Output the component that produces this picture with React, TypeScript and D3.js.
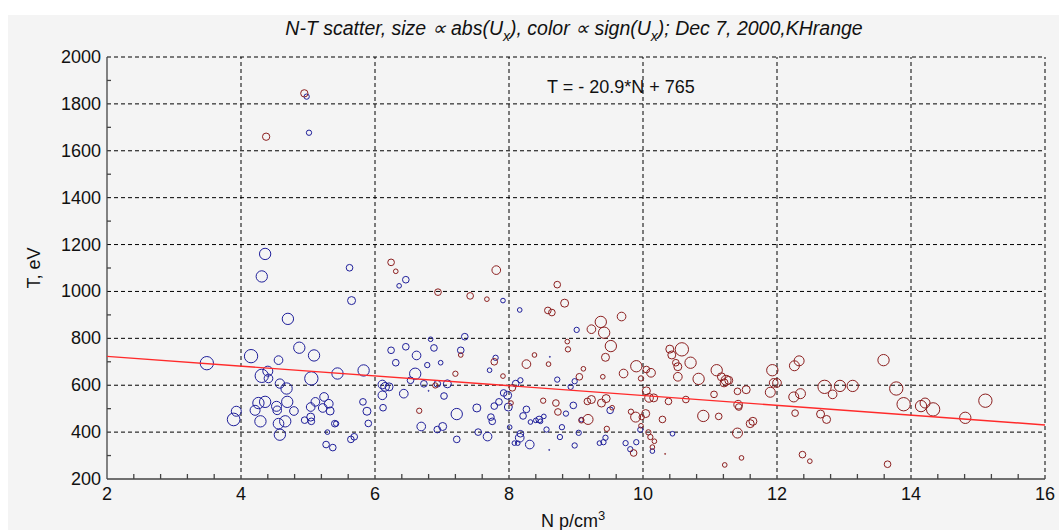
import React from "react";
import * as d3 from "d3";

// Each point: [N (p/cm^3), T (eV), Ux (km/s)]
const negativeUx: [number, number, number][] = [
  [4.36, 1160, -170], [4.31, 1064, -170], [4.70, 883, -170], [5.62, 1101, -100],
  [5.65, 961, -120], [3.49, 694, -200], [4.15, 724, -200], [4.56, 707, -130],
  [4.87, 760, -170], [5.09, 727, -170], [4.40, 660, -150], [4.31, 640, -200],
  [4.41, 629, -130], [4.58, 607, -140], [4.68, 586, -170], [5.05, 629, -200],
  [5.44, 650, -170], [5.83, 663, -170], [3.93, 489, -150], [3.89, 454, -190],
  [4.21, 493, -150], [4.26, 524, -170], [4.36, 529, -170], [4.29, 446, -170],
  [4.53, 510, -150], [4.54, 493, -130], [4.69, 529, -170], [4.79, 490, -130],
  [4.56, 436, -160], [4.66, 446, -170], [4.58, 389, -170], [5.11, 529, -130],
  [5.04, 507, -130], [5.24, 550, -130], [5.31, 521, -130], [5.22, 503, -130],
  [5.33, 490, -120], [5.04, 464, -120], [4.95, 451, -100], [5.05, 446, -100],
  [5.40, 436, -100], [5.42, 436, -80], [5.29, 400, -70], [5.27, 347, -100],
  [5.37, 334, -100], [5.82, 529, -100], [5.88, 489, -120], [5.90, 437, -100],
  [5.64, 369, -100], [5.69, 380, -100], [6.11, 603, -130], [6.15, 593, -130],
  [6.21, 593, -120], [6.11, 557, -130], [6.12, 504, -100], [6.24, 749, -100],
  [6.46, 764, -100], [6.31, 696, -100], [6.62, 727, -130], [6.83, 796, -70],
  [6.88, 759, -100], [6.78, 686, -80], [6.98, 696, -70], [6.60, 649, -170],
  [6.53, 621, -100], [6.73, 606, -100], [6.93, 606, -100], [7.08, 606, -120],
  [6.43, 564, -130], [7.03, 554, -100], [7.22, 477, -170], [6.69, 424, -130],
  [6.93, 411, -100], [7.01, 424, -120], [7.22, 369, -100], [7.34, 807, -100],
  [7.28, 749, -100], [7.52, 503, -120], [7.54, 400, -100], [6.46, 1050, -100],
  [6.36, 1024, -70], [6.80, 576, -15], [4.98, 1831, -80], [5.015, 1677, -80],
  [7.91, 961, -70], [8.16, 921, -70], [7.80, 717, -80], [7.71, 664, -70],
  [7.73, 464, -100], [7.75, 446, -100], [7.68, 381, -130], [7.78, 511, -100],
  [7.85, 529, -100], [7.92, 567, -100], [7.98, 557, -120], [7.99, 507, -120],
  [8.10, 607, -100], [8.17, 621, -80], [8.01, 421, -70], [8.17, 393, -100],
  [8.16, 376, -130], [8.08, 353, -70], [8.13, 353, -70], [8.31, 347, -130],
  [8.26, 497, -100], [8.21, 469, -100], [8.32, 443, -70], [8.40, 450, -70],
  [8.45, 454, -100], [8.47, 446, -70], [8.52, 467, -70], [8.56, 411, -80],
  [8.60, 324, -10], [8.76, 379, -80], [8.79, 421, -80], [8.85, 479, -80],
  [8.72, 624, -80], [8.92, 593, -80], [8.98, 617, -80], [8.96, 514, -100],
  [9.04, 397, -80], [8.98, 343, -80], [9.01, 836, -80], [8.61, 721, -10],
  [9.08, 453, -70], [9.35, 353, -70], [9.41, 357, -80], [9.44, 376, -80],
  [9.51, 493, -100], [9.74, 353, -80], [9.81, 327, -80], [9.90, 357, -80],
  [9.96, 410, -80], [10.14, 319, -70], [10.44, 393, -70],
];

const positiveUx: [number, number, number][] = [
  [6.24, 1124, 100], [6.31, 1086, 70], [6.94, 997, 100], [7.42, 981, 100],
  [7.28, 729, 70], [7.20, 649, 80], [6.90, 599, 80], [6.66, 491, 80],
  [4.945, 1845, 110], [4.375, 1660, 110], [7.67, 967, 70], [7.81, 1091, 130],
  [7.78, 700, 100], [7.91, 639, 70], [8.05, 589, 100], [8.03, 524, 70],
  [8.72, 1029, 100], [8.83, 950, 120], [8.58, 919, 100], [8.64, 910, 100],
  [8.87, 786, 70], [8.88, 753, 80], [8.38, 729, 70], [8.26, 690, 130],
  [8.59, 690, 70], [9.11, 670, 70], [9.05, 636, 100], [9.40, 636, 70],
  [9.37, 870, 170], [9.23, 839, 130], [9.42, 824, 170], [9.68, 893, 130],
  [9.52, 767, 170], [9.44, 719, 120], [9.71, 650, 130], [9.90, 681, 170],
  [10.05, 667, 100], [10.12, 653, 130], [9.97, 629, 80], [8.51, 534, 80],
  [8.70, 524, 100], [8.73, 486, 100], [9.17, 531, 100], [9.23, 539, 120],
  [9.38, 524, 120], [9.45, 543, 120], [9.18, 454, 150], [9.08, 450, 80],
  [9.46, 414, 80], [9.54, 504, 70], [9.82, 487, 80], [9.89, 464, 150],
  [9.98, 464, 80], [10.04, 479, 120], [9.97, 427, 70], [10.05, 576, 120],
  [10.09, 546, 130], [10.16, 546, 120], [10.38, 531, 100], [10.64, 539, 100],
  [10.29, 454, 100], [10.08, 399, 80], [10.11, 379, 80], [10.17, 361, 70],
  [10.14, 336, 70], [9.86, 311, 100], [10.33, 307, 10], [10.40, 754, 120],
  [10.43, 729, 120], [10.58, 753, 200], [10.49, 696, 100], [10.52, 679, 120],
  [10.71, 696, 170], [10.52, 636, 130], [10.83, 627, 170], [10.90, 469, 170],
  [11.10, 664, 170], [11.06, 561, 100], [11.13, 467, 100], [11.22, 260, 70],
  [11.17, 636, 120], [11.24, 621, 150], [11.28, 621, 120], [11.21, 610, 120],
  [11.41, 574, 100], [11.54, 581, 120], [11.42, 517, 130], [11.43, 507, 100],
  [11.41, 396, 150], [11.47, 290, 70], [11.60, 436, 120], [11.64, 446, 120],
  [11.93, 664, 170], [11.95, 610, 130], [12.00, 610, 130], [11.90, 570, 150],
  [12.26, 683, 150], [12.33, 704, 150], [12.25, 550, 150], [12.35, 564, 150],
  [12.27, 481, 100], [12.38, 304, 100], [12.49, 276, 70], [12.65, 477, 120],
  [12.74, 454, 120], [12.71, 593, 200], [12.83, 561, 130], [12.94, 597, 170],
  [13.13, 597, 170], [13.59, 707, 170], [13.78, 586, 200], [13.65, 263, 100],
  [13.89, 519, 200], [14.15, 511, 170], [14.21, 524, 150], [14.33, 497, 200],
  [14.81, 461, 170], [15.11, 534, 200],
];

// Linear fit T = slope*N + intercept
const fitSlope = -20.9;
const fitIntercept = 765;

const xTicks = [2, 4, 6, 8, 10, 12, 14, 16];
const yTicks = [200, 400, 600, 800, 1000, 1200, 1400, 1600, 1800, 2000];

const W = 1059;
const H = 530;
const FONT = "'Liberation Sans', Arial, sans-serif";
const BLUE = "#1f1f9a";
const RED = "#8c1f1f";

export default function App() {
  const x = d3.scaleLinear().domain([2, 16]).range([107, 1045]);
  const y = d3.scaleLinear().domain([200, 2000]).range([479, 57]);
  const r = d3.scaleLinear().domain([0, 300]).range([0, 10]);

  const xMinor = d3.range(2, 16.001, 0.4).filter(
    (v) => Math.abs(v / 2 - Math.round(v / 2)) > 1e-6
  );
  const yMinor = d3.range(300, 2000, 200);

  const fitLine = d3
    .line<number>()
    .x((n) => x(n))
    .y((n) => y(fitSlope * n + fitIntercept));

  const [x0, x1] = x.range();
  const [yb, yt] = y.range();

  return (
    <svg
      width={W}
      height={H}
      style={{ position: "absolute", left: 0, top: 0, display: "block" }}
      fontFamily={FONT}
    >
      <rect x={0} y={0} width={W} height={H} fill="#ffffff" />
      <rect x={8} y={15} width={W - 8} height={H - 15} fill="#f4f4f4" />

      {/* title */}
      <text
        x={574}
        y={35}
        textAnchor="middle"
        fontSize={19.5}
        fontStyle="italic"
        fill="#111"
      >
        N-T scatter, size ∝ abs(U
        <tspan dy={6} fontSize={14}>x</tspan>
        <tspan dy={-6}>), color ∝ sign(U</tspan>
        <tspan dy={6} fontSize={14}>x</tspan>
        <tspan dy={-6}>); Dec 7, 2000,KHrange</tspan>
      </text>

      {/* grid */}
      <g stroke="#000" strokeWidth={1} strokeDasharray="4,3" fill="none">
        {xTicks.slice(1).map((v) => (
          <line key={"gx" + v} x1={x(v)} x2={x(v)} y1={yb} y2={yt} />
        ))}
        {yTicks.slice(1).map((v) => (
          <line key={"gy" + v} x1={x0} x2={x1} y1={y(v)} y2={y(v)} />
        ))}
      </g>

      {/* axes */}
      <g stroke="#444" strokeWidth={1.3}>
        <line x1={x0} x2={x0} y1={yb} y2={yt} />
        <line x1={x0} x2={x1} y1={yb} y2={yb} />
        {yMinor.map((v) => (
          <line key={"my" + v} x1={x0} x2={x0 + 4} y1={y(v)} y2={y(v)} />
        ))}
        {xMinor.map((v) => (
          <line key={"mx" + v} x1={x(v)} x2={x(v)} y1={yb} y2={yb - 5} />
        ))}
      </g>

      {/* tick labels */}
      <g fontSize={18} fill="#111">
        {yTicks.map((v) => (
          <text key={"ty" + v} x={x0 - 6} y={y(v) + 6} textAnchor="end">
            {v}
          </text>
        ))}
        {xTicks.map((v) => (
          <text key={"tx" + v} x={x(v)} y={yb + 21} textAnchor="middle">
            {v}
          </text>
        ))}
      </g>

      {/* axis titles */}
      <text
        transform={`translate(40,268) rotate(-90)`}
        textAnchor="middle"
        fontSize={18}
        fill="#111"
      >
        T, eV
      </text>
      <text x={573} y={527} textAnchor="middle" fontSize={18} fill="#111">
        N p/cm
        <tspan dy={-7} fontSize={13}>3</tspan>
      </text>

      {/* points */}
      <g fill="none" strokeWidth={1}>
        {negativeUx.map((d, i) => (
          <circle
            key={"n" + i}
            cx={x(d[0])}
            cy={y(d[1])}
            r={Math.max(r(Math.abs(d[2])), 0.5)}
            stroke={BLUE}
          />
        ))}
        {positiveUx.map((d, i) => (
          <circle
            key={"p" + i}
            cx={x(d[0])}
            cy={y(d[1])}
            r={Math.max(r(Math.abs(d[2])), 0.5)}
            stroke={RED}
          />
        ))}
      </g>

      {/* regression */}
      <path d={fitLine([2, 16]) ?? ""} stroke="#ff2a2a" strokeWidth={1.4} fill="none" />
      <text x={547} y={93} fontSize={18} fill="#111">
        T = - 20.9*N + 765
      </text>
    </svg>
  );
}
